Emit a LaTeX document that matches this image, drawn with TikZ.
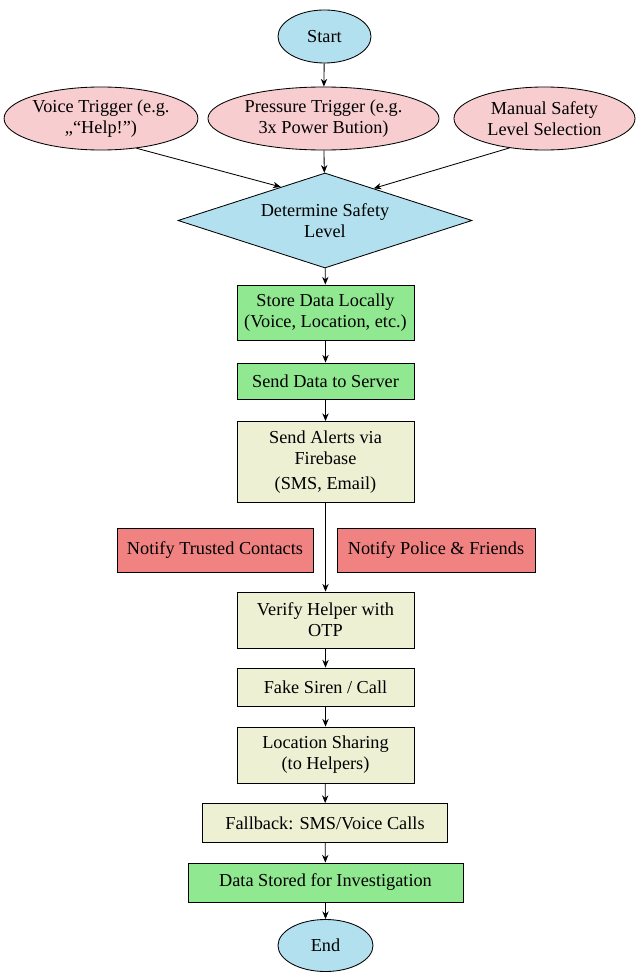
\documentclass[tikz,border=0pt]{standalone}
\usepackage{fontspec}
\setmainfont{Liberation Serif}
\usetikzlibrary{shapes.geometric,arrows.meta,calc}
\definecolor{termblue}{HTML}{B2E0EE}
\definecolor{trigpink}{HTML}{F8CDD0}
\definecolor{datagreen}{HTML}{90E890}
\definecolor{actpale}{HTML}{EEF0D4}
\definecolor{notered}{HTML}{F08282}
\begin{document}
\begin{tikzpicture}[x=0.025cm,y=-0.025cm,
		every node/.style={font=\fontsize{13pt}{15pt}\selectfont,align=center,inner sep=0pt,line width=0.6pt},
		term/.style={ellipse,draw,fill=termblue},
		trig/.style={ellipse,draw,fill=trigpink,minimum height=1.575cm},
		decide/.style={diamond,draw,fill=termblue,aspect=3,minimum width=7.35cm,minimum height=2.375cm},
		databox/.style={rectangle,draw,fill=datagreen},
		actbox/.style={rectangle,draw,fill=actpale,minimum width=4.425cm},
		notebox/.style={rectangle,draw,fill=notered,minimum height=1.1cm},
		flow/.style={-{Stealth[length=5.5pt,width=4.5pt]},line width=0.6pt}]
			\useasboundingbox (0,0) rectangle (637,972);
			\path
			(324.5,36.5) node[term,minimum width=2.325cm,minimum height=1.325cm] (start) {Start}
			(101,118.5) node[trig,minimum width=4.65cm] (voice) {Voice Trigger (e.g.\\,,``Help!'')}
			(323.5,118.5) node[trig,minimum width=5.775cm] (press) {Pressure Trigger (e.g.\\3x Power Bution)}
			(544.5,118.5) node[trig,minimum width=4.525cm] (manual) {Manual Safety\\Level Selection}
			(325,220.5) node[decide] (dsl) {Determine Safety\\Level}
			(325.5,312.5) node[databox,minimum width=4.425cm,minimum height=1.375cm] (store) {Store Data Locally\\(Voice, Location, etc.)}
			(325.5,381) node[databox,minimum width=4.425cm,minimum height=0.9cm] (server) {Send Data to Server}
			(325.5,462) node[actbox,minimum height=2.025cm] (alerts) {Send Alerts via\\Firebase\\[3pt](SMS, Email)}
			(215,550) node[notebox,minimum width=4.9cm] (trusted) {Notify Trusted Contacts}
			(436,550) node[notebox,minimum width=4.95cm] (police) {Notify Police \& Friends}
			(325.5,620) node[actbox,minimum height=1.4cm] (verify) {Verify Helper with\\OTP}
			(325.5,687) node[actbox,minimum height=0.95cm] (siren) {Fake Siren / Call}
			(325.5,755) node[actbox,minimum height=1.4cm] (locshare) {Location Sharing\\(to Helpers)}
			(325,823) node[actbox,minimum width=6.125cm,minimum height=0.975cm] (fallback) {Fallback: SMS/Voice Calls}
			(325.5,882.5) node[databox,minimum width=6.875cm,minimum height=0.975cm] (stored) {Data Stored for Investigation}
			(325.5,945.5) node[term,minimum width=2.375cm,minimum height=1.3cm] (finish) {End}
			;
			\draw[flow] (start)--(press);
			\draw[flow] (press)--(dsl);
			\draw[flow] (voice.-40)--($(dsl.west)!0.7!(dsl.north)$);
			\draw[flow] (manual.-140)--($(dsl.east)!0.67!(dsl.north)$);
			\draw[flow] (dsl)--(store);
			\draw[flow] (store)--(server);
			\draw[flow] (server)--(alerts);
			\draw[flow] (alerts)--(verify);
			\draw[flow] (verify)--(siren);
			\draw[flow] (siren)--(locshare);
			\draw[flow] (locshare)--(fallback);
			\draw[flow] (fallback)--(stored);
			\draw[flow] (stored)--(finish);
\end{tikzpicture}
\end{document}
